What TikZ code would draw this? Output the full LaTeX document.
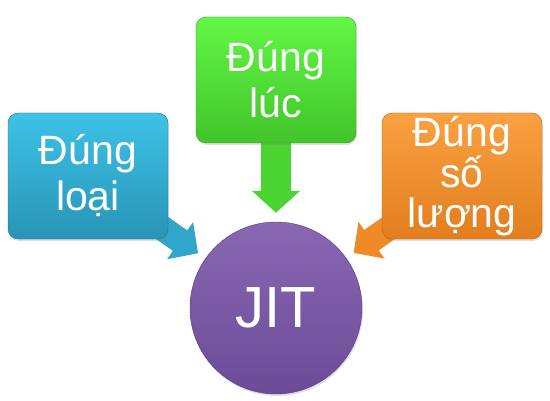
\documentclass[tikz,border=0pt]{standalone}
\usepackage{fontspec}
\setmainfont{Liberation Sans}
\usepackage{tikz}
\usetikzlibrary{shadows}
\usetikzlibrary{backgrounds}
\usetikzlibrary{arrows.meta}

\definecolor{loaitop}{HTML}{3EC2E6}
\definecolor{loaibot}{HTML}{2894B6}
\definecolor{loaiarrow}{HTML}{2FA6CA}
\definecolor{luctop}{HTML}{62F746}
\definecolor{lucbot}{HTML}{42C42A}
\definecolor{lucarrow}{HTML}{4AD532}
\definecolor{luongtop}{HTML}{FAA142}
\definecolor{luongbot}{HTML}{E27E1E}
\definecolor{luongarrow}{HTML}{EE8A28}
\definecolor{jittop}{HTML}{8A67B3}
\definecolor{jitbot}{HTML}{6B4B97}

\tikzset{
	card/.style={rectangle, rounded corners=10pt, minimum width=160pt, minimum height=126pt,
		inner sep=0pt, align=center, text=white, draw=#1bot!80!black, line width=0.4pt,
		top color=#1top, bottom color=#1bot,
		drop shadow={opacity=0.25, shadow xshift=1pt, shadow yshift=-2pt},
		font=\fontsize{41}{46}\selectfont},
	fatarrow/.style={draw=#1, line width=25pt, shorten >=9pt,
		-{Triangle[width=44pt, length=22pt]}}
}

\begin{document}
\begin{tikzpicture}[x=1pt, y=1pt]
	\useasboundingbox (0,0) rectangle (550,400);
	\node [circle, minimum size=172pt, inner sep=0pt, text=white, draw=jitbot!80!black,
		top color=jittop, bottom color=jitbot,
		drop shadow={opacity=0.25, shadow xshift=1pt, shadow yshift=-2pt},
		font=\fontsize{58}{60}\selectfont] (jit) at (276,92) {JIT};
	\node [card=loai] (loai) at (88,224) {Đúng\\loại};
	\node [card=luc] (luc) at (276,320) {Đúng\\lúc};
	\node [card=luong, font=\fontsize{41}{40}\selectfont] (luong) at (462,224) {Đúng\\số\\lượng};
	\begin{scope}[on background layer]
		\draw [fatarrow=loaiarrow] (loai.center) -- (jit);
		\draw [fatarrow=lucarrow, line width=30pt, -{Triangle[width=47pt, length=22pt]}] (luc.center) -- (jit);
		\draw [fatarrow=luongarrow] (luong.center) -- (jit);
	\end{scope}
\end{tikzpicture}
\end{document}
